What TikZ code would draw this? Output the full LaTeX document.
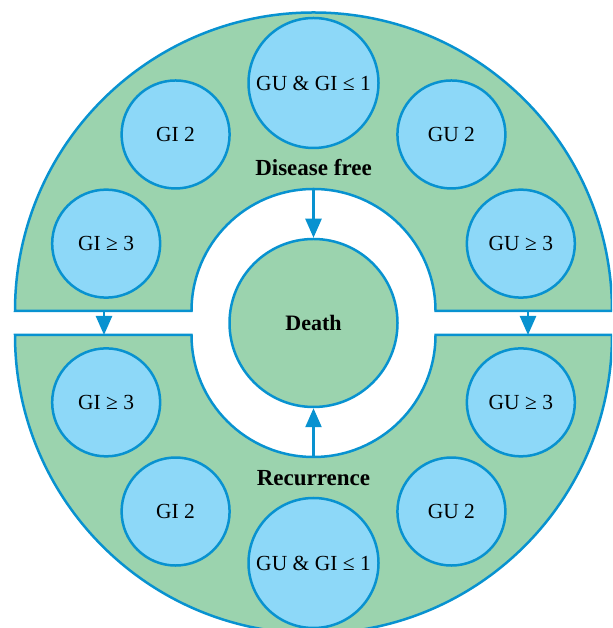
\documentclass[tikz,border=0pt]{standalone}
\usepackage{fontspec}
\setmainfont{Liberation Serif}
\usepackage{tikz}
\usetikzlibrary{arrows.meta}

\definecolor{stagegreen}{RGB}{155,211,174}
\definecolor{gradeblue}{RGB}{141,216,248}
\definecolor{lineblue}{RGB}{8,146,208}

\begin{document}
\begin{tikzpicture}[x=1pt, y=1pt,
    region/.style = {draw=lineblue, fill=stagegreen, line width=2.5pt},
    grade/.style = {draw=lineblue, fill=gradeblue, line width=2.5pt, circle, inner sep=0pt, minimum size=108pt, font=\fontsize{21.5}{24}\selectfont},
    bigrade/.style = {grade, minimum size=130pt},
    death/.style = {draw=lineblue, fill=stagegreen, line width=2.5pt, circle, inner sep=0pt, minimum size=168pt, font=\bfseries\fontsize{22}{24}\selectfont},
    stage/.style = {font=\bfseries\fontsize{23}{26}\selectfont},
    flow/.style = {-{Triangle[length=19pt, width=16pt]}, draw=lineblue, fill=lineblue, line width=2.5pt}]
    \useasboundingbox (0,0) rectangle (612,628);
    \clip (0,0) rectangle (612,628);

    \coordinate (up) at (313.5,317);
    \coordinate (down) at (313.5,293);

    % the two half rings
    \draw[region] ([shift={(180:298.5)}]up) arc[start angle=180, end angle=0, radius=298.5]
        -- ([shift={(0:122)}]up) arc[start angle=0, end angle=180, radius=122] -- cycle;
    \draw[region] ([shift={(180:298.5)}]down) arc[start angle=180, end angle=360, radius=298.5]
        -- ([shift={(0:122)}]down) arc[start angle=360, end angle=180, radius=122] -- cycle;

    % disease free
    \node[grade] (GI3a) at ([shift={(162:218)}]up) {GI ≥ 3};
    \node[grade] (GI2a) at ([shift={(128:224)}]up) {GI 2};
    \node[bigrade] (GUGIa) at ([shift={(90:228)}]up) {GU \& GI ≤ 1};
    \node[grade] (GU2a) at ([shift={(52:224)}]up) {GU 2};
    \node[grade] (GU3a) at ([shift={(18:218)}]up) {GU ≥ 3};
    \node[stage] (free) at (313.5,460) {Disease free};

    % recurrence
    \node[grade] (GI3b) at ([shift={(-162:218)}]down) {GI ≥ 3};
    \node[grade] (GI2b) at ([shift={(-128:224)}]down) {GI 2};
    \node[bigrade] (GUGIb) at ([shift={(-90:228)}]down) {GU \& GI ≤ 1};
    \node[grade] (GU2b) at ([shift={(-52:224)}]down) {GU 2};
    \node[grade] (GU3b) at ([shift={(-18:218)}]down) {GU ≥ 3};
    \node[stage] (recur) at (313.5,150) {Recurrence};

    \node[death] (D) at (313.5,305) {Death};

    \coordinate (freein) at ([shift={(90:122)}]up);
    \coordinate (recurin) at ([shift={(-90:122)}]down);
    \coordinate (leftout) at (104,317);
    \coordinate (leftin) at (104,293);
    \coordinate (rightout) at (528,317);
    \coordinate (rightin) at (528,293);

    \draw[flow] (freein) -- (D.north);
    \draw[flow] (recurin) -- (D.south);
    \draw[flow] (leftout) -- (leftin);
    \draw[flow] (rightout) -- (rightin);
\end{tikzpicture}
\end{document}
